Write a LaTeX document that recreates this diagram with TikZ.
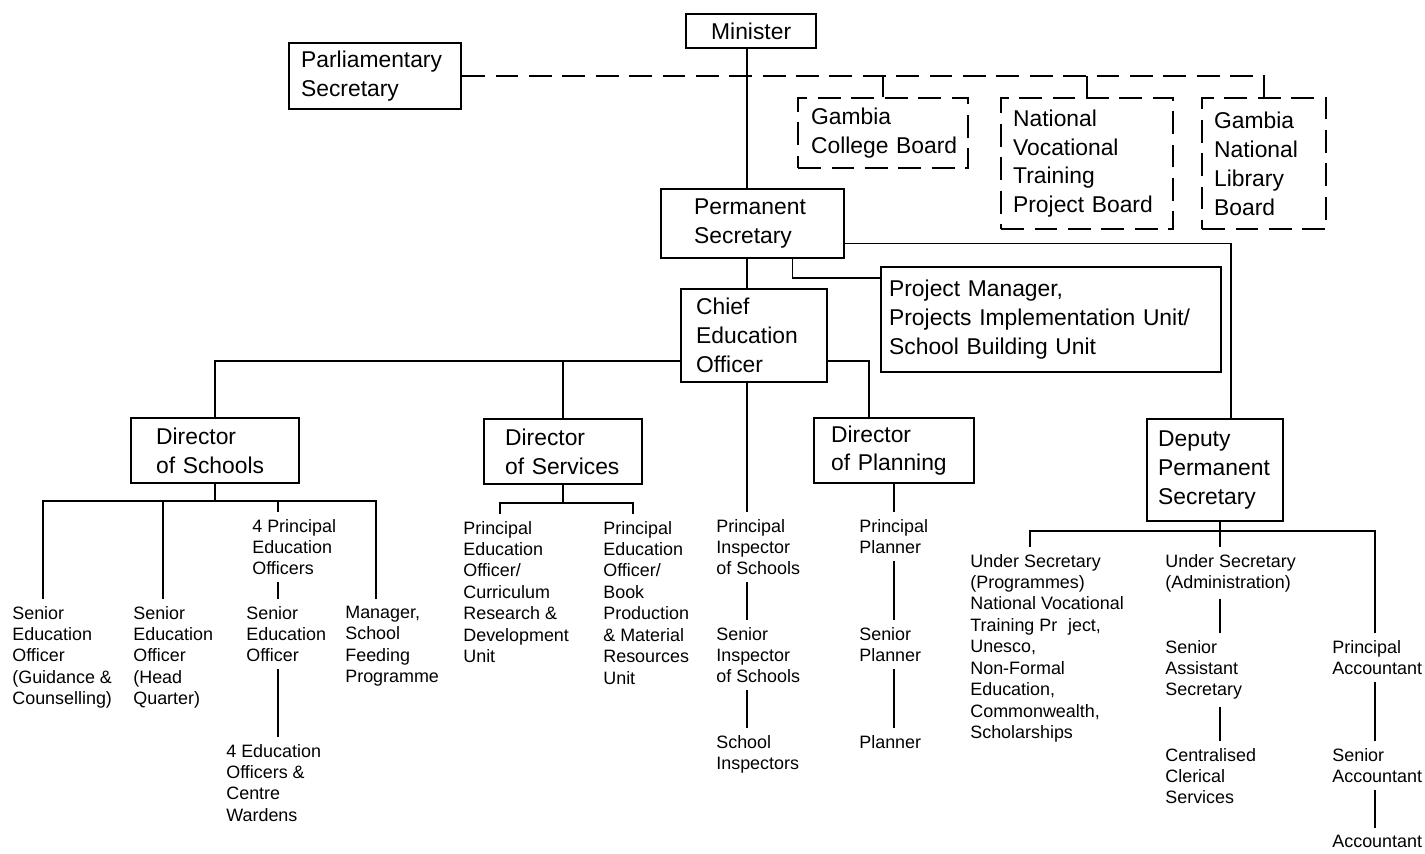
\documentclass[tikz,border=0pt]{standalone}
\usepackage{fontspec}
\setmainfont{Liberation Sans}

\begin{document}
\begin{tikzpicture}[x=0.02cm, y=-0.02cm,
  box/.style={draw, line width=1.3pt, anchor=north west, align=left, inner ysep=0pt, font=\fontsize{13}{16.4}\selectfont},
  dbox/.style={box, dash pattern=on 13pt off 6pt},
  lbl/.style={anchor=north west, align=left, inner sep=0pt, outer ysep=4pt, font=\fontsize{10.2}{12.2}\selectfont},
  link/.style={line width=0.75pt},
  dlink/.style={line width=1.3pt, dash pattern=on 13pt off 6pt}]
  \useasboundingbox (0,0) rectangle (1425,853);

  % top boxes
  \node[box, align=center, minimum width=2.6cm, minimum height=0.68cm] (min) at (685,13) {Minister};
  \node[box, minimum width=3.44cm, minimum height=1.32cm, text width=2.96cm, inner xsep=0.24cm] (parl) at (288,42) {Parliamentary\\Secretary};
  \node[dbox, minimum width=3.4cm, minimum height=1.4cm, text width=2.88cm, inner xsep=0.26cm] (gcb) at (797,97) {Gambia\\College~Board};
  \node[dbox, minimum width=3.44cm, minimum height=2.62cm, text width=2.96cm, inner xsep=0.24cm] (nvt) at (1000,97) {National\\Vocational\\Training\\Project~Board};
  \node[dbox, minimum width=2.48cm, minimum height=2.62cm, text width=2.0cm, inner xsep=0.24cm] (lib) at (1201,97) {Gambia\\National\\Library\\Board};
  \node[box, minimum width=3.66cm, minimum height=1.38cm, text width=2.34cm, inner xsep=0.66cm] (ps) at (660,188) {Permanent\\Secretary};
  \node[box, minimum width=6.8cm, minimum height=2.1cm, text width=6.48cm, inner xsep=0.16cm] (pm) at (880,266) {Project~Manager,\\Projects~Implementation~Unit/\\School~Building~Unit};
  \node[box, minimum width=2.92cm, minimum height=1.86cm, text width=2.32cm, inner xsep=0.3cm] (ceo) at (680,288) {Chief\\Education\\Officer};

  % directors
  \node[box, minimum width=3.36cm, minimum height=1.3cm, text width=2.36cm, inner xsep=0.5cm] (dsch) at (130,417) {Director\\of~Schools};
  \node[box, minimum width=3.16cm, minimum height=1.3cm, text width=2.32cm, inner xsep=0.42cm] (dser) at (483,418) {Director\\of~Services};
  \node[box, minimum width=3.2cm, minimum height=1.3cm, text width=2.52cm, inner xsep=0.34cm] (dpl) at (813,417) {Director\\of~Planning};
  \node[box, minimum width=2.72cm, minimum height=2.04cm, text width=2.28cm, inner xsep=0.22cm] (dps) at (1146,418) {Deputy\\Permanent\\Secretary};

  % schools
  \node[lbl] (sg) at (12,599) {Senior\\Education\\Officer\\(Guidance \&\\Counselling)};
  \node[lbl] (shq) at (133,599) {Senior\\Education\\Officer\\(Head\\Quarter)};
  \node[lbl] (peo4) at (252,512) {4 Principal\\Education\\Officers};
  \node[lbl] (seo) at (246,599) {Senior\\Education\\Officer};
  \node[lbl] (eo4) at (226,737) {4 Education\\Officers \&\\Centre\\Wardens};
  \node[lbl] (sfp) at (345,599) {Manager,\\School\\Feeding\\Programme};

  % services
  \node[lbl] (pcrd) at (463,514) {Principal\\Education\\Officer/\\Curriculum\\Research \&\\Development\\Unit};
  \node[lbl] (pbpm) at (603,514) {Principal\\Education\\Officer/\\Book\\Production\\\& Material\\Resources\\Unit};

  % inspectorate
  \node[lbl] (pis) at (716,512) {Principal\\Inspector\\of Schools};
  \node[lbl] (sis) at (716,620) {Senior\\Inspector\\of Schools};
  \node[lbl] (si) at (716,728) {School\\Inspectors};

  % planning
  \node[lbl] (pp) at (859,512) {Principal\\Planner};
  \node[lbl] (sp) at (859,620) {Senior\\Planner};
  \node[lbl] (pl) at (859,728) {Planner};

  % deputy
  \node[lbl] (usp) at (970,547) {Under Secretary\\(Programmes)\\National Vocational\\Training Pr\hspace{0.6em}ject,\\Unesco,\\Non-Formal\\Education,\\Commonwealth,\\Scholarships};
  \node[lbl] (usa) at (1165,547) {Under Secretary\\(Administration)};
  \node[lbl] (sas) at (1165,633) {Senior\\Assistant\\Secretary};
  \node[lbl] (ccs) at (1165,741) {Centralised\\Clerical\\Services};
  \node[lbl] (pa) at (1332,633) {Principal\\Accountant};
  \node[lbl] (sa) at (1332,741) {Senior\\Accountant};
  \node[lbl] (acc) at (1332,828) {Accountant};

  % top links
  \coordinate (spine) at ([xshift=-0.08cm]min.south);
  \draw[link] (spine) -- (spine |- ps.north);
  \draw[dlink] (parl.east) -| (lib.north);
  \draw[dlink] (gcb.north) -- (gcb.north |- parl.east);
  \draw[dlink] (nvt.north) -- (nvt.north |- parl.east);
  \draw[link] ([yshift=0.32cm]ps.south east) -| ([xshift=0.32cm]dps.north);
  \draw[link] ([xshift=0.8cm]ps.south) |- ([yshift=-0.24cm]pm.north west);
  \draw[link] (ps.south -| spine) -- (ceo.north -| spine);

  % chief education officer
  \coordinate (cj) at ([yshift=-0.51cm]ceo.west);
  \draw[link] (cj) -| (dsch.north);
  \draw[link] (dser.north) -- (dser.north |- cj);
  \draw[link] ([yshift=-0.51cm]ceo.east) -| ([xshift=-0.5cm]dpl.north);
  \draw[link] (ceo.south -| spine) -- (pis.north -| spine);
  \draw[link] (pis.south -| spine) -- (sis.north -| spine);
  \draw[link] (sis.south -| spine) -- (si.north -| spine);

  % schools
  \coordinate (sj) at (dsch.south |- 0,501);
  \draw[link] (dsch.south) -- (sj);
  \draw[link] (sg.north -| 43,0) |- (sj) -| (sfp.north -| 376,0);
  \draw[link] (shq.north -| 163,0) -- (sj -| 163,0);
  \draw[link] (peo4.north -| 278,0) -- (sj -| 278,0);
  \draw[link] (peo4.south -| 278,0) -- (seo.north -| 278,0);
  \draw[link] (seo.south -| 278,0) -- (eo4.north -| 278,0);

  % services
  \coordinate (vj) at (dser.south |- 0,503);
  \draw[link] (dser.south) -- (vj);
  \draw[link] (pcrd.north -| 500,0) |- (vj) -| (pbpm.north -| 633,0);

  % planning
  \draw[link] (dpl.south) -- (dpl.south |- pp.north);
  \draw[link] (pp.south -| dpl.south) -- (sp.north -| dpl.south);
  \draw[link] (sp.south -| dpl.south) -- (pl.north -| dpl.south);

  % deputy
  \coordinate (dj) at ([xshift=0.1cm]dps.south |- 0,531);
  \draw[link] (dj |- dps.south) -- (usa.north -| dj);
  \draw[link] (usp.north -| 1030,0) |- (dj) -| (pa.north -| 1375,0);
  \draw[link] (usa.south -| dj) -- (sas.north -| dj);
  \draw[link] (sas.south -| dj) -- (ccs.north -| dj);
  \draw[link] (pa.south -| 1375,0) -- (sa.north -| 1375,0);
  \draw[link] (sa.south -| 1375,0) -- (acc.north -| 1375,0);
\end{tikzpicture}
\end{document}
